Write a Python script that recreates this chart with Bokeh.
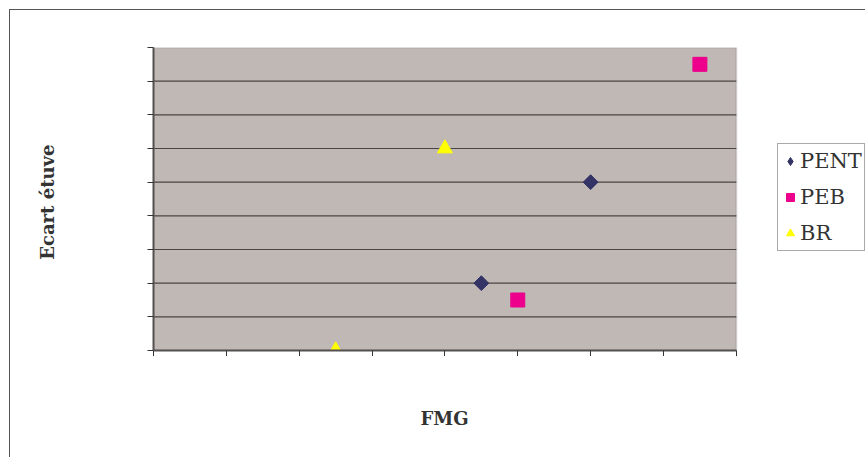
import numpy as np
from bokeh.plotting import figure
from bokeh.models import (Range1d, Legend, LegendItem, FixedTicker, BoxAnnotation, Title,
                          LinearAxis)
from bokeh.embed import file_html
from bokeh.resources import INLINE

# Data (axes carry no tick labels)
pent_x = [4.5, 6.0]
pent_y = [2.0, 5.0]
peb_x = [5.0, 7.5]
peb_y = [1.5, 8.5]
br_x = [2.5, 4.0]
br_y = [0.0, 6.0]
series_names = ["PENT", "PEB", "BR"]
x_ticks = list(range(0, 9))
y_ticks = list(range(0, 10))
x_title = "FMG"
y_title = "Ecart  étuve"

# layout (pixels)
FIG_W, FIG_H = 856, 448
LEFT, TOP, BOTTOM = 143, 37, 108
PLOT_W = 582                       # width of the shaded plot area
FRAME_W = FIG_W - 1 - LEFT         # frame runs to the right edge (room for legend)
x_end = x_ticks[-1] * FRAME_W / PLOT_W

p = figure(width=FIG_W, height=FIG_H, output_backend="svg", toolbar_location=None,
           x_range=Range1d(x_ticks[0], x_end), y_range=Range1d(y_ticks[0], y_ticks[-1]),
           min_border_left=LEFT, min_border_right=0,
           min_border_top=TOP, min_border_bottom=BOTTOM)
p.styles = {"margin-left": "9px", "margin-top": "9px",
            "border-left": "1px solid #555555", "border-top": "1px solid #555555",
            "box-sizing": "border-box"}

p.background_fill_color = "white"
p.border_fill_color = "white"
p.outline_line_color = None
p.grid.visible = False

area = BoxAnnotation(left=x_ticks[0], right=x_ticks[-1], bottom=y_ticks[0], top=y_ticks[-1],
                     fill_color="#c0b8b5", fill_alpha=1,
                     line_color="#8f8585", line_width=2, level="underlay")
p.add_layout(area)

# horizontal gridlines over the shaded area only
gy = y_ticks[1:-1]
p.segment(x0=[x_ticks[0]] * len(gy), x1=[x_ticks[-1]] * len(gy), y0=gy, y1=gy,
          line_color="#4a4545", line_width=1.2)

p.xaxis.ticker = FixedTicker(ticks=x_ticks)
p.yaxis.ticker = FixedTicker(ticks=y_ticks)
p.xaxis.bounds = (x_ticks[0], x_ticks[-1])

for ax in (p.xaxis, p.yaxis):
    ax.axis_line_color = "#555050"
    ax.axis_line_width = 2
    ax.major_tick_line_color = "#333333"
    ax.major_tick_in = 0
    ax.major_tick_out = 6
    ax.minor_tick_line_color = None
    ax.major_label_text_font_size = "1px"
    ax.major_label_text_color = None
    ax.major_label_standoff = 0
    ax.axis_label_text_font = "DejaVu Serif"
    ax.axis_label_text_font_style = "bold"
    ax.axis_label_text_font_size = "18px"
    ax.axis_label_text_color = "#333333"

p.yaxis.axis_label = y_title
p.yaxis.axis_label_standoff = 90

# blank spacer axis (white on white) that pushes the x title down
spacer = LinearAxis(ticker=FixedTicker(ticks=x_ticks), bounds=(x_ticks[0], x_ticks[-1]),
                    axis_line_color="white", major_tick_line_color="white",
                    minor_tick_line_color=None, major_tick_in=0, major_tick_out=26,
                    major_label_text_font_size="1px", major_label_text_color=None,
                    major_label_standoff=0)
p.add_layout(spacer, "below")

# x-axis title, centred under the shaded area
p.add_layout(Title(text=x_title, align="left", offset=267, standoff=46,
                   text_font="DejaVu Serif", text_font_style="bold",
                   text_font_size="18px", text_color="#333333"), "below")

r1 = p.scatter(pent_x, pent_y, marker="diamond", size=12,
               fill_color="#333366", line_color="#333366")
p.scatter(pent_x, pent_y, marker="square", angle=np.pi / 4, size=10.5,
          fill_color="#333366", line_color="#333366")
r2 = p.scatter(peb_x, peb_y, marker="square", size=14,
               fill_color="#ec008c", line_color="#ec008c")
r3 = p.scatter(br_x, br_y, marker="triangle", size=15,
               fill_color="#ffff00", line_color="#ffff00")

legend = Legend(items=[LegendItem(label=series_names[0], renderers=[r1]),
                       LegendItem(label=series_names[1], renderers=[r2]),
                       LegendItem(label=series_names[2], renderers=[r3])],
                location=(624, 99))
legend.label_text_font = "DejaVu Serif"
legend.label_text_font_size = "21px"
legend.label_text_color = "#333333"
legend.border_line_color = "#555555"
legend.border_line_width = 1
legend.background_fill_color = "white"
legend.background_fill_alpha = 1
legend.glyph_width = 20
legend.glyph_height = 30
legend.label_height = 20
legend.label_standoff = 0
legend.spacing = 6
legend.padding = 2
legend.margin = 0
p.add_layout(legend, "center")

open("out.html", "w").write(file_html(p, INLINE))
